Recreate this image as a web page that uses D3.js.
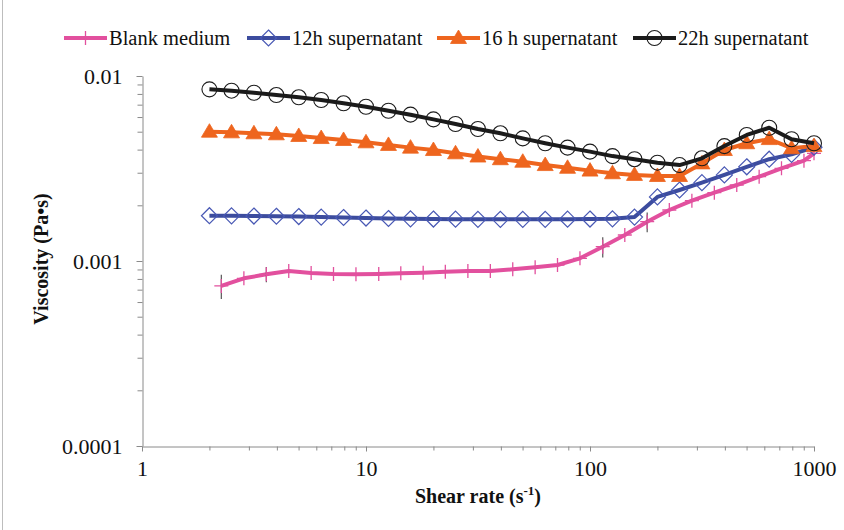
<!DOCTYPE html>
<html>
<head>
<meta charset="utf-8">
<script src="https://cdn.jsdelivr.net/npm/d3@7"></script>
<style>
  html, body { margin: 0; padding: 0; background: #fff; }
  svg { display: block; }
  svg text { font-family: "Liberation Serif", "Times New Roman", serif !important; fill: #111; }
</style>
</head>
<body>
<svg id="chart" width="844" height="530" font-family="Liberation Serif, serif"></svg>
<script>
// Shear rates (1/s) for the three supernatant runs
const shearRate = [2, 2.51, 3.16, 3.98, 5.01, 6.31, 7.94, 10, 12.6, 15.8, 20, 25.1, 31.6, 39.8,
  50.1, 63.1, 79.4, 100, 126, 158, 200, 251, 316, 398, 501, 631, 794, 1000];
// Shear rates (1/s) for the blank medium run
const shearRateBlank = [2.26, 2.85, 3.59, 4.52, 5.69, 7.16, 9.02, 11.4, 14.3, 18.0, 22.6, 28.5, 35.9,
  45.2, 56.9, 71.6, 90.2, 114, 143, 180, 226, 285, 359, 452, 569, 716, 902, 1000];

// Viscosity (Pa·s)
const blankMedium = [0.000733, 0.000806, 0.000847, 0.000883, 0.000861, 0.000850, 0.000847, 0.000850,
  0.000858, 0.000864, 0.000875, 0.000883, 0.000883, 0.000902, 0.000925, 0.000951, 0.001034, 0.001195,
  0.001382, 0.001631, 0.001887, 0.002118, 0.002340, 0.002575, 0.002855, 0.003170, 0.003484, 0.003822];
const blankError = [0.00011, 0, 0.00008, 0, 0, 0, 0, 0, 0, 0, 0, 0, 0, 0, 0, 0, 0, 0.00015,
  0, 0.0002, 0, 0, 0, 0, 0, 0, 0, 0];
const super12h = [0.001757, 0.001755, 0.001750, 0.001745, 0.001739, 0.001728, 0.001718, 0.001707,
  0.001697, 0.001690, 0.001686, 0.001683, 0.001680, 0.001680, 0.001680, 0.001680, 0.001683, 0.001686,
  0.001690, 0.001728, 0.00222, 0.00242, 0.00265, 0.00292, 0.00323, 0.00355, 0.00377, 0.00412];
const super16h = [0.00500, 0.00496, 0.00490, 0.00484, 0.00474, 0.00462, 0.00451, 0.00438, 0.00424,
  0.00410, 0.00398, 0.00382, 0.00367, 0.00355, 0.00344, 0.00330, 0.00319, 0.00308, 0.00298, 0.00292,
  0.00288, 0.00288, 0.00337, 0.00398, 0.00433, 0.00456, 0.00407, 0.00418];
const super22h = [0.00847, 0.00833, 0.00812, 0.00789, 0.00767, 0.00742, 0.00712, 0.00682, 0.00649,
  0.00618, 0.00583, 0.00550, 0.00517, 0.00490, 0.00460, 0.00433, 0.00410, 0.00390, 0.00369, 0.00355,
  0.00340, 0.00330, 0.00359, 0.00418, 0.00480, 0.00525, 0.00455, 0.00433];

const seriesNames = ["Blank medium", "12h supernatant", "16 h supernatant", "22h supernatant"];
const xTicks = [1, 10, 100, 1000];
const yTicks = [0.0001, 0.001, 0.01];

const series = [
  { name: seriesNames[0], xs: shearRateBlank, ys: blankMedium, err: blankError, color: "#E2509E", marker: "plus" },
  { name: seriesNames[1], xs: shearRate, ys: super12h, color: "#3C4C9E", markerColor: "#4858B4", marker: "diamond" },
  { name: seriesNames[2], xs: shearRate, ys: super16h, color: "#EE651E", marker: "triangle" },
  { name: seriesNames[3], xs: shearRate, ys: super22h, color: "#1B1B1B", marker: "circle" }
];

const FONT = "'Liberation Serif', 'Times New Roman', serif";
const svg = d3.select("#chart");
const axisColor = "#8a8a8a";

// Frame edge on the left
svg.append("line").attr("x1", 2.5).attr("x2", 2.5).attr("y1", 0).attr("y2", 530)
  .attr("stroke", "#bdbdbd").attr("stroke-width", 1);

const x = d3.scaleLog().domain([1, 1000]).range([142, 814]);
const y = d3.scaleLog().domain([0.0001, 0.01]).range([446, 76]);

// Minor tick values 2..9 within each decade
function minorTicks(lo, hi) {
  const out = [];
  for (let d = lo; d < hi * 0.999; d *= 10) for (let m = 2; m <= 9; m++) out.push(d * m);
  return out;
}

// X axis
const xAxis = svg.append("g").attr("transform", "translate(0,446.5)")
  .call(d3.axisBottom(x).tickValues(xTicks).tickFormat(d3.format("d")).tickSize(5).tickSizeOuter(0));
svg.append("g").attr("transform", "translate(0,446.5)")
  .call(d3.axisBottom(x).tickValues(minorTicks(1, 1000)).tickFormat("").tickSize(4).tickSizeOuter(0))
  .call(g => g.select(".domain").remove());

// Y axis
const yAxis = svg.append("g").attr("transform", "translate(142.5,0)")
  .call(d3.axisLeft(y).tickValues(yTicks).tickFormat(d => String(d)).tickSize(6).tickSizeOuter(0));
svg.append("g").attr("transform", "translate(142.5,0)")
  .call(d3.axisLeft(y).tickValues(minorTicks(0.0001, 0.01)).tickFormat("").tickSize(5).tickSizeOuter(0))
  .call(g => g.select(".domain").remove());

svg.selectAll("g").attr("font-family", FONT);
svg.selectAll(".domain, .tick line").attr("stroke", axisColor);
xAxis.selectAll(".tick text").attr("dy", "0.98em").style("font-size", "22px");
yAxis.selectAll(".tick text").attr("x", -20).style("font-size", "22px");
svg.selectAll(".tick text").attr("fill", "#111").style("font-family", FONT);

// Axis titles
const xTitle = svg.append("text").attr("x", 478).attr("y", 503).attr("text-anchor", "middle")
  .style("font-family", FONT).style("font-size", "20px").style("font-weight", "bold");
xTitle.append("tspan").text("Shear rate (s");
xTitle.append("tspan").attr("dy", -8).style("font-size", "13px").text("-1");
xTitle.append("tspan").attr("dy", 8).text(")");

svg.append("text").attr("transform", "translate(48,259) rotate(-90)").attr("text-anchor", "middle")
  .style("font-family", FONT).style("font-size", "20px").style("font-weight", "bold")
  .text("Viscosity (Pa•s)");

// Marker drawing
function drawMarker(g, type, cx, cy, s) {
  if (type === "plus") {
    g.append("path").attr("d", `M${cx - 7},${cy}H${cx + 7}M${cx},${cy - 7}V${cy + 7}`)
      .attr("stroke", s.color).attr("stroke-width", 1.3).attr("fill", "none");
  } else if (type === "diamond") {
    g.append("path").attr("d", `M${cx},${cy - 8}L${cx + 8},${cy}L${cx},${cy + 8}L${cx - 8},${cy}Z`)
      .attr("stroke", s.markerColor).attr("stroke-width", 1.2).attr("fill", "none");
  } else if (type === "triangle") {
    g.append("path").attr("d", `M${cx},${cy - 8}L${cx + 8},${cy + 5.5}L${cx - 8},${cy + 5.5}Z`)
      .attr("fill", s.color).attr("stroke", s.color).attr("stroke-width", 0.8);
  } else if (type === "circle") {
    g.append("circle").attr("cx", cx).attr("cy", cy).attr("r", 7.5)
      .attr("stroke", s.color).attr("stroke-width", 1.1).attr("fill", "none");
  }
}

const line = d3.line().x(d => x(d[0])).y(d => y(d[1]));
const plot = svg.append("g");

series.forEach(s => {
  const pts = s.xs.map((v, i) => [v, s.ys[i]]);
  const g = plot.append("g");
  g.append("path").datum(pts).attr("d", line).attr("fill", "none")
    .attr("stroke", s.color).attr("stroke-width", 4).attr("stroke-linejoin", "round");
  pts.forEach((p, i) => {
    if (s.err && s.err[i] > 0) {
      g.append("line").attr("x1", x(p[0])).attr("x2", x(p[0]))
        .attr("y1", y(p[1] + s.err[i])).attr("y2", y(p[1] - s.err[i]))
        .attr("stroke", "#555").attr("stroke-width", 1.2);
    }
    drawMarker(g, s.marker, x(p[0]), y(p[1]), s);
  });
});

// Legend
const legendX = [64, 247, 437, 633];
const legendY = 38;
series.forEach((s, i) => {
  const g = svg.append("g").attr("transform", `translate(${legendX[i]},0)`);
  g.append("line").attr("x1", 0).attr("x2", 43).attr("y1", legendY).attr("y2", legendY)
    .attr("stroke", s.color).attr("stroke-width", 4);
  drawMarker(g, s.marker, 21.5, legendY, s);
  g.append("text").attr("x", 45).attr("y", legendY).attr("dy", "0.35em")
    .style("font-family", FONT).style("font-size", "20.5px").text(s.name);
});
</script>
</body>
</html>
